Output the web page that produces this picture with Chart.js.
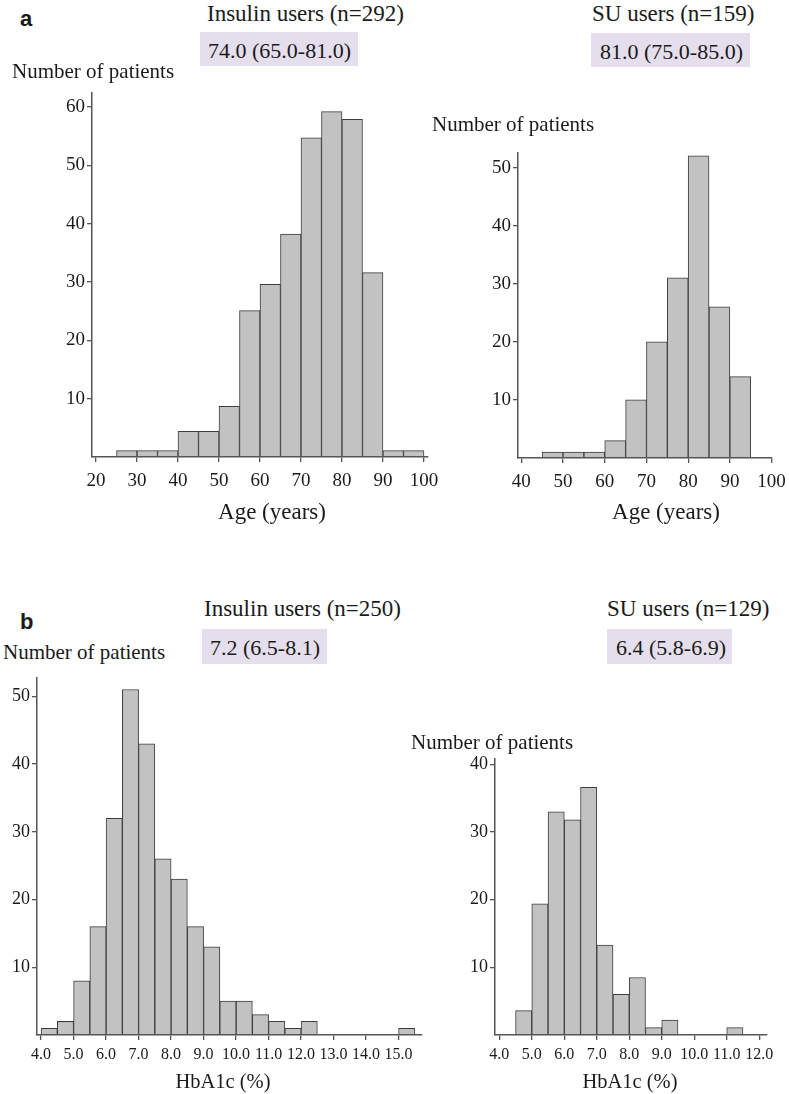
<!DOCTYPE html>
<html>
<head>
<meta charset="utf-8">
<script src="https://cdn.jsdelivr.net/npm/chart.js@4.4.0/dist/chart.umd.min.js"></script>
<style>
  html, body { margin: 0; padding: 0; background: #fff; overflow: hidden; }
  body { position: relative; width: 789px; height: 1094px; font-family: "Liberation Serif", "Times New Roman", serif; color: #1a1a1a; }
  canvas { position: absolute; }
  .t { position: absolute; white-space: nowrap; line-height: 1; }
  .xt { position: absolute; white-space: nowrap; line-height: 1; transform: translateX(-50%); }
  .box { position: absolute; background: #e5dfed; }
  .panel { position: absolute; font-family: "Liberation Sans", Arial, sans-serif; font-weight: bold; font-size: 22px; line-height: 1; }
</style>
</head>
<body>
<canvas id="ageInsulin" width="412" height="448" style="left:40px;top:79px"></canvas>
<canvas id="ageSU" width="330" height="389" style="left:466px;top:139px"></canvas>
<canvas id="hbInsulin" width="435" height="429" style="left:3px;top:664px"></canvas>
<canvas id="hbSU" width="322" height="348" style="left:461px;top:745px"></canvas>

<div class="panel" style="left:20px;top:8px">a</div>
<div class="t" style="left:207px;top:2px;font-size:23px">Insulin users (n=292)</div>
<div class="box" style="left:200px;top:32px;width:158px;height:34px"></div>
<div class="t" style="left:208px;top:40px;font-size:22px">74.0 (65.0-81.0)</div>
<div class="t" style="left:12px;top:61px;font-size:21px">Number of patients</div>
<div class="xt" style="left:272px;top:500px;font-size:23px">Age (years)</div>

<div class="t" style="left:592px;top:2px;font-size:23px">SU users (n=159)</div>
<div class="box" style="left:591px;top:33px;width:159px;height:34px"></div>
<div class="t" style="left:600px;top:41px;font-size:22px">81.0 (75.0-85.0)</div>
<div class="t" style="left:432px;top:114px;font-size:21px">Number of patients</div>
<div class="xt" style="left:666px;top:500px;font-size:23px">Age (years)</div>

<div class="panel" style="left:20px;top:611px">b</div>
<div class="t" style="left:204px;top:597px;font-size:23px">Insulin users (n=250)</div>
<div class="box" style="left:202px;top:629px;width:125px;height:35px"></div>
<div class="t" style="left:210px;top:637px;font-size:22px">7.2 (6.5-8.1)</div>
<div class="t" style="left:3px;top:642px;font-size:21px">Number of patients</div>
<div class="xt" style="left:223px;top:1071px;font-size:20.5px">HbA1c (%)</div>

<div class="t" style="left:607px;top:597px;font-size:23px">SU users (n=129)</div>
<div class="box" style="left:607px;top:629px;width:125px;height:35px"></div>
<div class="t" style="left:616px;top:637px;font-size:22px">6.4 (5.8-6.9)</div>
<div class="t" style="left:411px;top:732px;font-size:21px">Number of patients</div>
<div class="xt" style="left:630px;top:1071px;font-size:20.5px">HbA1c (%)</div>

<script>
// age histograms (5-year bins, value = bin start)
const ageBinWidth = 5;
const insulinAgeBins = [25, 30, 35, 40, 45, 50, 55, 60, 65, 70, 75, 80, 85, 90, 95];
const insulinAgeCounts = [1.1, 1.1, 1.1, 4.4, 4.4, 8.7, 25.1, 29.6, 38.2, 54.7, 59.2, 57.9, 31.6, 1.1, 1.1];
const suAgeBins = [45, 50, 55, 60, 65, 70, 75, 80, 85, 90];
const suAgeCounts = [1, 1, 1, 3, 10, 20, 31, 52, 26, 14];

// HbA1c histograms (0.5% bins, value = bin start)
const hbBinWidth = 0.5;
const insulinHbBins = [4.0, 4.5, 5.0, 5.5, 6.0, 6.5, 7.0, 7.5, 8.0, 8.5, 9.0, 9.5, 10.0, 10.5, 11.0, 11.5, 12.0, 15.0];
const insulinHbCounts = [1, 2, 8, 16, 32, 51, 43, 26, 23, 16, 13, 5, 5, 3, 2, 1, 2, 1];
const suHbBins = [4.5, 5.0, 5.5, 6.0, 6.5, 7.0, 7.5, 8.0, 8.5, 9.0, 11.0];
const suHbCounts = [3.6, 19.4, 33, 31.8, 36.6, 13.3, 6, 8.5, 1.1, 2.2, 1.1];

// tick labels
const ageTicksInsulin = [20, 30, 40, 50, 60, 70, 80, 90, 100];
const ageTicksSU = [40, 50, 60, 70, 80, 90, 100];
const hbTicksInsulin = [4, 5, 6, 7, 8, 9, 10, 11, 12, 13, 14, 15];
const hbTicksSU = [4, 5, 6, 7, 8, 9, 10, 11, 12];
const countTicksInsulinAge = [10, 20, 30, 40, 50, 60];
const countTicksSUAge = [10, 20, 30, 40, 50];
const countTicksInsulinHb = [10, 20, 30, 40, 50];
const countTicksSUHb = [10, 20, 30, 40];

const axisColor = '#555';
const textColor = '#1a1a1a';
const serif = '"Liberation Serif", "Times New Roman", serif';

function histogram(id, bins, counts, binWidth, c) {
    const data = bins.map((b, i) => ({ x: b + binWidth / 2, y: counts[i] }));
    return new Chart(document.getElementById(id), {
        type: 'bar',
        data: {
            datasets: [{
                data: data,
                backgroundColor: '#c2c2c2',
                borderColor: '#3d3d3d',
                borderWidth: 1,
                barPercentage: 1,
                categoryPercentage: 1
            }]
        },
        options: {
            responsive: false,
            animation: false,
            layout: { padding: { top: 14, right: c.padRight, left: 0, bottom: 0 } },
            plugins: { legend: { display: false }, tooltip: { enabled: false } },
            scales: {
                x: {
                    type: 'linear',
                    offset: false,
                    min: c.xMin,
                    max: c.xMax,
                    afterBuildTicks: s => { s.ticks = c.xTicks.map(v => ({ value: v })); },
                    afterFit: s => { s.height = c.xHeight; },
                    ticks: {
                        autoSkip: false, maxRotation: 0, padding: c.xPad, color: textColor,
                        font: { family: serif, size: c.xFont },
                        callback: v => c.xFmt(v)
                    },
                    grid: { offset: false, drawOnChartArea: false, tickLength: 5, color: axisColor, lineWidth: 1.3 },
                    border: { color: axisColor, width: 1.5, z: 1 }
                },
                y: {
                    min: 0,
                    max: c.yMax,
                    afterBuildTicks: s => { s.ticks = c.yTicks.map(v => ({ value: v })); },
                    afterFit: s => { s.width = c.yWidth; },
                    ticks: {
                        autoSkip: false, padding: 2, color: textColor,
                        font: { family: serif, size: c.yFont }
                    },
                    grid: { drawOnChartArea: false, tickLength: 5, color: axisColor, lineWidth: 1.3 },
                    border: { color: axisColor, width: 1.5, z: 1 }
                }
            }
        }
    });
}

const ageFmt = v => String(v);
const hbFmt = v => Number(v).toFixed(1);

histogram('ageInsulin', insulinAgeBins, insulinAgeCounts, ageBinWidth, {
    xMin: 19.02, xMax: 100.98, xTicks: ageTicksInsulin, xFmt: ageFmt,
    yMax: 62.4, yTicks: countTicksInsulinAge,
    yWidth: 52, xHeight: 70, padRight: 24, xPad: 8, xFont: 19, yFont: 19
});

histogram('ageSU', suAgeBins, suAgeCounts, ageBinWidth, {
    xMin: 39.2, xMax: 100.1, xTicks: ageTicksSU, xFmt: ageFmt,
    yMax: 52.5, yTicks: countTicksSUAge,
    yWidth: 52, xHeight: 70, padRight: 24, xPad: 8, xFont: 19, yFont: 19
});

histogram('hbInsulin', insulinHbBins, insulinHbCounts, hbBinWidth, {
    xMin: 3.874, xMax: 15.72, xTicks: hbTicksInsulin, xFmt: hbFmt,
    yMax: 52.7, yTicks: countTicksInsulinHb,
    yWidth: 34, xHeight: 58, padRight: 16, xPad: 5, xFont: 16, yFont: 18
});

histogram('hbSU', suHbBins, suHbCounts, hbBinWidth, {
    xMin: 3.867, xMax: 12.24, xTicks: hbTicksSU, xFmt: hbFmt,
    yMax: 40.8, yTicks: countTicksSUHb,
    yWidth: 34, xHeight: 58, padRight: 16, xPad: 5, xFont: 16, yFont: 18
});
</script>
</body>
</html>
